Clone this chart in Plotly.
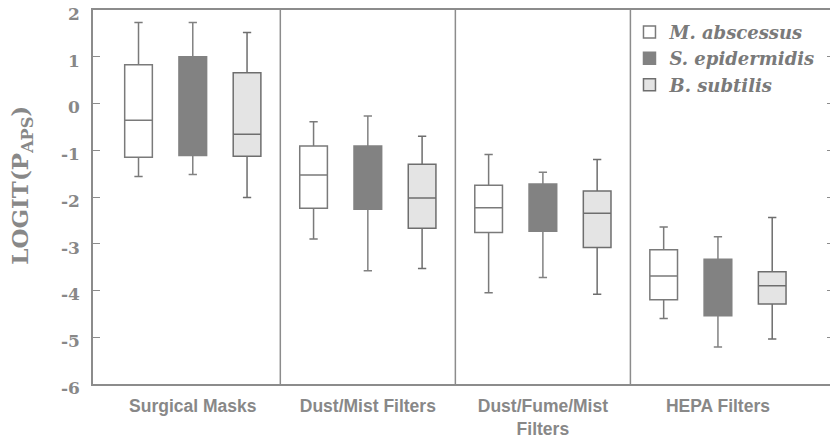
import plotly.graph_objects as go

categories = ["Surgical Masks", "Dust/Mist Filters", "Dust/Fume/Mist<br>Filters", "HEPA Filters"]
series = ["M. abscessus", "S. epidermidis", "B. subtilis"]

# per series: lower whisker, Q1, median, Q3, upper whisker for each category
m_abs_low = [-1.56, -2.90, -4.05, -4.60]
m_abs_q1 = [-1.15, -2.24, -2.76, -4.20]
m_abs_med = [-0.36, -1.53, -2.23, -3.69]
m_abs_q3 = [0.83, -0.91, -1.75, -3.13]
m_abs_high = [1.73, -0.39, -1.09, -2.64]

s_epi_low = [-1.52, -3.58, -3.72, -5.21]
s_epi_q1 = [-1.11, -2.26, -2.73, -4.54]
s_epi_med = [-0.30, -1.60, -2.20, -3.87]
s_epi_q3 = [1.00, -0.91, -1.72, -3.33]
s_epi_high = [1.73, -0.27, -1.47, -2.85]

b_sub_low = [-2.01, -3.53, -4.08, -5.04]
b_sub_q1 = [-1.13, -2.67, -3.08, -4.29]
b_sub_med = [-0.66, -2.02, -2.35, -3.90]
b_sub_q3 = [0.66, -1.30, -1.87, -3.60]
b_sub_high = [1.52, -0.70, -1.20, -2.44]

y_ticks = [2, 1, 0, -1, -2, -3, -4, -5, -6]
y_title = "LOGIT(P<sub>APS</sub>)"

stats = [
    (m_abs_low, m_abs_q1, m_abs_med, m_abs_q3, m_abs_high),
    (s_epi_low, s_epi_q1, s_epi_med, s_epi_q3, s_epi_high),
    (b_sub_low, b_sub_q1, b_sub_med, b_sub_q3, b_sub_high),
]
fills = ["#ffffff", "#828282", "#e4e4e4"]
lines = ["#7a7a7a", "#828282", "#6e6e6e"]

fig = go.Figure()
for name, (lo, q1, med, q3, hi), fc, lc in zip(series, stats, fills, lines):
    fig.add_trace(go.Box(
        name=name, x=categories, lowerfence=lo, q1=q1, median=med, q3=q3, upperfence=hi,
        fillcolor=fc, line=dict(color=lc, width=1.5), whiskerwidth=0.3,
        boxpoints=False, hoverinfo="skip",
    ))

# panel dividers
for xv in [0.5, 1.5, 2.5]:
    fig.add_shape(type="line", xref="x", yref="paper", x0=xv, x1=xv, y0=0, y1=1,
                  line=dict(color="#8c8c8c", width=1.5))

grey_text = "#888888"
fig.add_annotation(text=y_title, textangle=-90, xref="paper", yref="paper",
                   x=0, xshift=-71, y=0.53, xanchor="center", yanchor="middle", showarrow=False,
                   font=dict(family="DejaVu Serif", size=23, color=grey_text, weight="bold"))

fig.update_layout(
    width=836, height=439,
    margin=dict(l=93, r=0, t=10, b=53),
    paper_bgcolor="white", plot_bgcolor="white",
    boxmode="group", boxgap=0.07, boxgroupgap=0.49,
    showlegend=True,
    legend=dict(x=0.724, y=0.99, xanchor="left", yanchor="top",
                font=dict(family="DejaVu Serif", size=18, color="#7a7a7a", style="italic", weight="bold"),
                bgcolor="rgba(0,0,0,0)", itemwidth=30, tracegroupgap=0),
    xaxis=dict(range=[-0.57, 3.663], showline=True, linecolor="#8c8c8c", linewidth=1.5,
               mirror=True, ticks="", showgrid=False, zeroline=False, ticklabelstandoff=5,
               tickfont=dict(family="Liberation Sans", size=17.5, color=grey_text, weight="bold")),
    yaxis=dict(range=[-6, 2], tickvals=y_ticks, ticktext=[str(v) for v in y_ticks],
               showline=True, linecolor="#8c8c8c", linewidth=1.5, mirror="ticks",
               ticks="inside", ticklen=7, tickcolor="#8c8c8c", showgrid=False, zeroline=False,
               ticklabelstandoff=8, ticklabelshift=4,
               tickfont=dict(family="DejaVu Serif", size=17, color=grey_text, weight="bold")),
)

fig.write_html("out.html", config={"displayModeBar": False},
               post_script="document.body.style.margin='0';document.body.style.overflow='hidden';")
